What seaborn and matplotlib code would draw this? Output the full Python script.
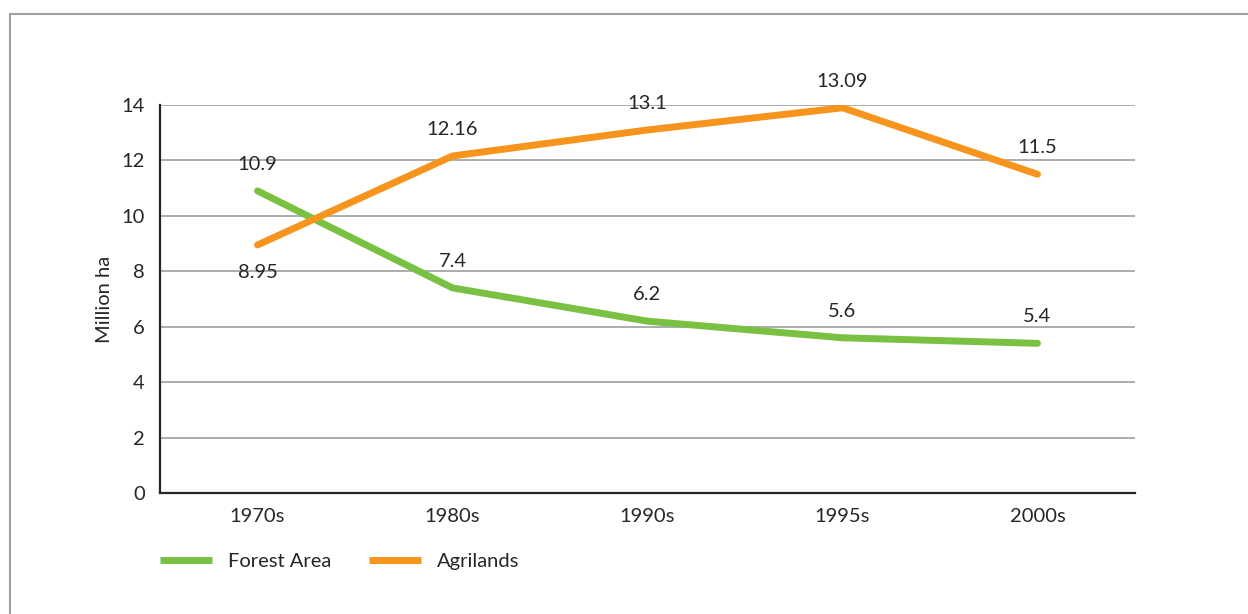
import matplotlib
matplotlib.use('Agg')
import matplotlib.pyplot as plt
import seaborn as sns
import pandas as pd
from matplotlib.lines import Line2D

periods = ['1970s', '1980s', '1990s', '1995s', '2000s']
forest = [10.9, 7.4, 6.2, 5.6, 5.4]
agri = [8.95, 12.16, 13.1, 13.9, 11.5]
forest_labels = ['10.9', '7.4', '6.2', '5.6', '5.4']
agri_labels = ['8.95', '12.16', '13.1', '13.09', '11.5']

green = '#7AC143'
orange = '#F7941D'
fs = 14.5

sns.set_style('white')
plt.rcParams['font.family'] = ['Lato', 'DejaVu Sans']

df = pd.DataFrame({'period': periods * 2,
                   'value': forest + agri,
                   'series': ['Forest Area'] * 5 + ['Agrilands'] * 5})
df['x'] = list(range(5)) * 2

fig = plt.figure(figsize=(12.48, 6.14), dpi=100)
ax = fig.add_axes([160 / 1248, 1 - 493 / 614, 975 / 1248, 388 / 614])

sns.lineplot(data=df, x='x', y='value', hue='series',
             palette={'Forest Area': green, 'Agrilands': orange},
             linewidth=5, legend=False, ax=ax, sort=False)
for line in ax.lines:
    line.set_solid_capstyle('round')
    line.set_solid_joinstyle('round')

ax.set_xlim(-0.5, 4.5)
ax.set_ylim(0, 14)
ax.set_yticks(range(0, 15, 2))
ax.yaxis.grid(True, color='#A6A6A6', linewidth=1.3)
ax.set_axisbelow(True)

ax.set_xticks([i - 0.5 for i in range(6)])
ax.set_xticklabels([])
ax.set_xticks(range(5), minor=True)
ax.set_xticklabels(periods, minor=True)
ax.tick_params(axis='x', which='major', length=7, width=1.3, color='#262626', direction='out')
ax.tick_params(axis='x', which='minor', length=0, pad=11, labelsize=fs, labelcolor='#262626')
ax.tick_params(axis='y', length=0, pad=11, labelsize=fs, labelcolor='#262626')

for s in ['top', 'right']:
    ax.spines[s].set_visible(False)
for s in ['left', 'bottom']:
    ax.spines[s].set_color('#262626')
    ax.spines[s].set_linewidth(1.6)

ax.set_xlabel('')
ax.set_ylabel('Million ha', fontsize=fs, color='#262626', labelpad=6)

for i, (v, t) in enumerate(zip(forest, forest_labels)):
    ax.annotate(t, (i, v), xytext=(0, 13), textcoords='offset points',
                ha='center', va='bottom', fontsize=fs, color='#262626')
for i, (v, t) in enumerate(zip(agri, agri_labels)):
    off = -14 if i == 0 else 13
    ax.annotate(t, (i, v), xytext=(0, off), textcoords='offset points',
                ha='center', va='top' if off < 0 else 'bottom', fontsize=fs, color='#262626')

handles = [Line2D([], [], color=green, linewidth=5, solid_capstyle='butt'),
           Line2D([], [], color=orange, linewidth=5, solid_capstyle='butt')]
fig.legend(handles, ['Forest Area', 'Agrilands'], loc='center left',
           bbox_to_anchor=(142 / 1248, 1 - 561 / 614), ncol=2, frameon=False,
           fontsize=fs, handlelength=2.6, handletextpad=0.75, columnspacing=1.9,
           labelcolor='#262626')

fig.add_artist(Line2D([10 / 1248, 10 / 1248], [0, 1 - 14 / 614],
                      transform=fig.transFigure, color='#A0A0A0', linewidth=1.5))
fig.add_artist(Line2D([10 / 1248, 1], [1 - 14 / 614, 1 - 14 / 614],
                      transform=fig.transFigure, color='#A0A0A0', linewidth=1.5))

fig.savefig('out.png', dpi=100)
